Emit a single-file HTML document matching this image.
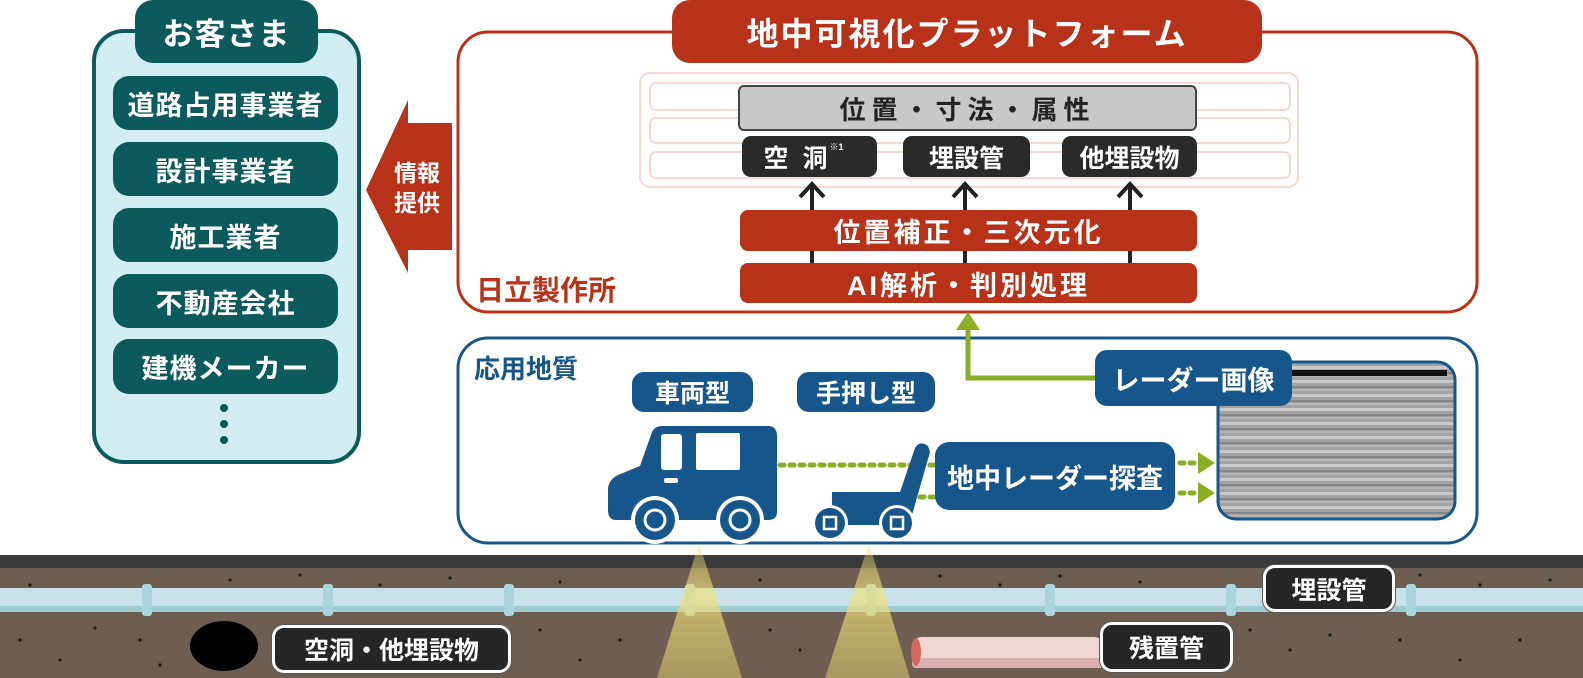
<!DOCTYPE html>
<html><head><meta charset="utf-8">
<style>
html,body{margin:0;padding:0;background:#fff;}
body{width:1583px;height:678px;overflow:hidden;position:relative;font-family:"Liberation Sans","Noto Sans CJK JP",sans-serif;}
.a{position:absolute;box-sizing:border-box;display:flex;align-items:center;justify-content:center;color:#fff;font-weight:bold;white-space:nowrap;}
.t{background:#0d5a5c;border-radius:16px;font-size:27px;letter-spacing:1px;}
.r{background:#b8321a;border-radius:8px;font-size:27px;letter-spacing:3px;}
.k{background:#2a2a2a;border-radius:9px;font-size:25px;}
.b{background:#17568a;border-radius:12px;font-size:25px;}
.lab{background:#262626;border:3px solid #fff;border-radius:12px;font-size:25px;box-shadow:0 0 0 1px #555;}
</style></head><body>
<svg width="1583" height="678" style="position:absolute;left:0;top:0">
 <defs>
  <pattern id="rd" width="237" height="14" patternUnits="userSpaceOnUse">
   <rect width="237" height="14" fill="#a3a3a3"/>
   <rect y="2" width="237" height="3" fill="#c9c9c9"/>
   <rect y="8" width="237" height="2" fill="#858585"/>
   <rect y="11" width="237" height="2" fill="#b5b5b5"/>
  </pattern>
  <linearGradient id="cone" x1="0" y1="0" x2="0" y2="1">
   <stop offset="0" stop-color="#efe07a" stop-opacity="0.3"/>
   <stop offset="0.4" stop-color="#efe07a" stop-opacity="0.7"/>
   <stop offset="1" stop-color="#d8c870" stop-opacity="0.55"/>
  </linearGradient>
 </defs>
 <rect x="94" y="31" width="265" height="431" rx="30" fill="#d3eef3" stroke="#0d5a5c" stroke-width="4"/>
 <circle cx="224" cy="408" r="4" fill="#0d5a5c"/><circle cx="224" cy="424" r="4" fill="#0d5a5c"/><circle cx="224" cy="440" r="4" fill="#0d5a5c"/>
 <polygon points="366,190 408,100 408,123 452,123 452,250 408,250 408,273" fill="#b8321a"/>
 <rect x="458" y="32" width="1019" height="280" rx="30" fill="#fff" stroke="#b8321a" stroke-width="3"/>
 <rect x="640" y="73" width="658" height="114" rx="10" fill="none" stroke="#f8d9d2" stroke-width="2"/>
 <rect x="650" y="83" width="640" height="27" rx="6" fill="none" stroke="#f8d9d2" stroke-width="2"/>
 <rect x="650" y="118" width="640" height="25" rx="6" fill="none" stroke="#f8d9d2" stroke-width="2"/>
 <rect x="650" y="152" width="640" height="26" rx="6" fill="none" stroke="#f8d9d2" stroke-width="2"/>
 <g stroke="#222" stroke-width="4" fill="none">
  <line x1="812" y1="264" x2="812" y2="185"/><polyline points="800,197 812,184 824,197"/>
  <line x1="965" y1="264" x2="965" y2="185"/><polyline points="953,197 965,184 977,197"/>
  <line x1="1130" y1="264" x2="1130" y2="185"/><polyline points="1118,197 1130,184 1142,197"/>
 </g>
 <rect x="458" y="338" width="1019" height="205" rx="30" fill="#fff" stroke="#17568a" stroke-width="3"/>
 <polyline points="968,320 968,378 1100,378" fill="none" stroke="#8aae24" stroke-width="5"/>
 <polygon points="956,330 968,312 980,330" fill="#8aae24"/>
 <rect x="1218" y="362" width="237" height="157" rx="18" fill="url(#rd)" stroke="#17568a" stroke-width="3"/>
 <rect x="1290" y="370" width="157" height="6" fill="#111"/>
 <line x1="780" y1="465" x2="938" y2="465" stroke="#8aae24" stroke-width="5" stroke-dasharray="4,6" stroke-linecap="round"/>
 <line x1="920" y1="497" x2="938" y2="497" stroke="#8aae24" stroke-width="5" stroke-dasharray="4,6" stroke-linecap="round"/>
 <line x1="1180" y1="463" x2="1195" y2="463" stroke="#8aae24" stroke-width="5" stroke-dasharray="4,6" stroke-linecap="round"/>
 <line x1="1180" y1="493" x2="1195" y2="493" stroke="#8aae24" stroke-width="5" stroke-dasharray="4,6" stroke-linecap="round"/>
 <polygon points="1198,452 1215,463 1198,474" fill="#8aae24"/>
 <polygon points="1198,482 1215,493 1198,504" fill="#8aae24"/>
 <path d="M622,426 L768,426 Q777,426 777,436 L777,512 Q777,520 768,520 L616,520 Q608,520 608,510 L608,490 Q608,480 618,475 L640,466 L652,432 Q655,426 662,426 Z" fill="#17568a"/>
 <rect x="661" y="434" width="21" height="36" rx="3" fill="#fff"/>
 <rect x="696" y="433" width="44" height="37" rx="2" fill="#fff"/>
 <rect x="664" y="478" width="14" height="5" rx="2" fill="#fff"/>
 <g><circle cx="655" cy="520" r="24" fill="#fff"/><circle cx="655" cy="520" r="20" fill="#17568a"/><circle cx="655" cy="520" r="10" fill="none" stroke="#fff" stroke-width="3"/>
 <circle cx="740" cy="520" r="24" fill="#fff"/><circle cx="740" cy="520" r="20" fill="#17568a"/><circle cx="740" cy="520" r="10" fill="none" stroke="#fff" stroke-width="3"/></g>
 <path d="M832,492 L900,492 L915,448 Q920,440 928,446 L930,452 L912,515 Q910,525 900,525 L840,525 Q832,525 832,517 Z" fill="#17568a"/>
 <circle cx="830" cy="523" r="18" fill="#fff"/><circle cx="830" cy="523" r="15" fill="#17568a"/><rect x="824" y="517" width="12" height="12" fill="none" stroke="#fff" stroke-width="2.5"/>
 <circle cx="897" cy="523" r="18" fill="#fff"/><circle cx="897" cy="523" r="15" fill="#17568a"/><rect x="891" y="517" width="12" height="12" fill="none" stroke="#fff" stroke-width="2.5"/>
 <rect x="0" y="555" width="1583" height="13" fill="#3a3a3a"/>
 <rect x="0" y="568" width="1583" height="110" fill="#6e5e51"/>
 <g fill="#1a1a1a">
  <circle cx="30" cy="585" r="1.6"/><circle cx="95" cy="628" r="1.6"/><circle cx="60" cy="660" r="1.6"/><circle cx="140" cy="640" r="1.6"/><circle cx="230" cy="580" r="1.6"/><circle cx="300" cy="575" r="1.6"/><circle cx="380" cy="585" r="1.6"/><circle cx="450" cy="578" r="1.6"/><circle cx="560" cy="582" r="1.6"/><circle cx="620" cy="640" r="1.6"/><circle cx="580" cy="660" r="1.6"/><circle cx="540" cy="630" r="1.6"/><circle cx="760" cy="580" r="1.6"/><circle cx="800" cy="650" r="1.6"/><circle cx="770" cy="630" r="1.6"/><circle cx="940" cy="576" r="1.6"/><circle cx="1000" cy="585" r="1.6"/><circle cx="1060" cy="576" r="1.6"/><circle cx="1140" cy="582" r="1.6"/><circle cx="1250" cy="630" r="1.6"/><circle cx="1290" cy="650" r="1.6"/><circle cx="1330" cy="635" r="1.6"/><circle cx="1420" cy="575" r="1.6"/><circle cx="1480" cy="585" r="1.6"/><circle cx="1550" cy="580" r="1.6"/><circle cx="1400" cy="640" r="1.6"/><circle cx="1460" cy="660" r="1.6"/><circle cx="1520" cy="640" r="1.6"/><circle cx="160" cy="665" r="1.6"/><circle cx="20" cy="640" r="1.6"/>
 </g>
 <rect x="0" y="588" width="1583" height="24" fill="#c8e0e8"/>
 <rect x="0" y="606" width="1583" height="6" fill="#9fcbd2"/>
 <g fill="#a9d6dc">
  <rect x="142" y="584" width="10" height="32" rx="3"/><rect x="323" y="584" width="10" height="32" rx="3"/><rect x="504" y="584" width="10" height="32" rx="3"/><rect x="685" y="584" width="10" height="32" rx="3"/><rect x="866" y="584" width="10" height="32" rx="3"/><rect x="1045" y="584" width="10" height="32" rx="3"/><rect x="1226" y="584" width="10" height="32" rx="3"/><rect x="1406" y="584" width="10" height="32" rx="3"/>
 </g>
 <rect x="912" y="637" width="192" height="31" rx="10" fill="#f1d6d6"/>
 <rect x="912" y="658" width="192" height="10" rx="4" fill="#d9b1b1"/>
 <ellipse cx="916" cy="652" rx="5" ry="14" fill="#d06a5c"/>
 <ellipse cx="224" cy="646" rx="34" ry="25" fill="#000"/>
 <polygon points="699,543 657,678 742,678" fill="url(#cone)"/>
 <polygon points="869,543 825,678 910,678" fill="url(#cone)"/>
</svg>

<div class="a t" style="left:135px;top:0;width:183px;height:63px;font-size:31px;border-radius:18px;">お客さま</div>
<div class="a t" style="left:113px;top:76px;width:225px;height:54px;">道路占用事業者</div>
<div class="a t" style="left:113px;top:142px;width:225px;height:54px;">設計事業者</div>
<div class="a t" style="left:113px;top:208px;width:225px;height:54px;">施工業者</div>
<div class="a t" style="left:113px;top:274px;width:225px;height:54px;">不動産会社</div>
<div class="a t" style="left:113px;top:339px;width:225px;height:55px;">建機メーカー</div>
<div class="a" style="left:382px;top:148px;width:70px;height:80px;font-size:23px;flex-direction:column;line-height:30px;">情報<br>提供</div>

<div class="a r" style="left:672px;top:0;width:590px;height:63px;font-size:32px;border-radius:18px;letter-spacing:2px;">地中可視化プラットフォーム</div>
<div class="a" style="left:738px;top:85px;width:459px;height:46px;background:#c8c8c8;border:2px solid #444;border-radius:6px;color:#222;font-size:26px;letter-spacing:6px;">位置・寸法・属性</div>
<div class="a k" style="left:742px;top:136px;width:135px;height:41px;letter-spacing:14px;">空洞<span style="font-size:9px;letter-spacing:0;position:relative;top:-10px;left:-12px;">※1</span></div>
<div class="a k" style="left:903px;top:136px;width:127px;height:41px;">埋設管</div>
<div class="a k" style="left:1062px;top:136px;width:135px;height:41px;">他埋設物</div>
<div class="a r" style="left:740px;top:210px;width:457px;height:41px;">位置補正・三次元化</div>
<div class="a r" style="left:740px;top:263px;width:457px;height:40px;">AI解析・判別処理</div>
<div class="a" style="left:476px;top:271px;width:160px;height:36px;color:#b8321a;font-size:28px;justify-content:flex-start;">日立製作所</div>

<div class="a" style="left:474px;top:349px;width:140px;height:36px;color:#17568a;font-size:26px;justify-content:flex-start;">応用地質</div>
<div class="a b" style="left:632px;top:372px;width:121px;height:40px;">車両型</div>
<div class="a b" style="left:797px;top:372px;width:138px;height:40px;">手押し型</div>
<div class="a b" style="left:1095px;top:350px;width:197px;height:56px;font-size:27px;">レーダー画像</div>
<div class="a b" style="left:935px;top:442px;width:240px;height:68px;font-size:27px;border-radius:14px;">地中レーダー探査</div>

<div class="a lab" style="left:1263px;top:565px;width:132px;height:47px;">埋設管</div>
<div class="a lab" style="left:272px;top:625px;width:239px;height:48px;">空洞・他埋設物</div>
<div class="a lab" style="left:1100px;top:622px;width:133px;height:50px;">残置管</div>
</body></html>
